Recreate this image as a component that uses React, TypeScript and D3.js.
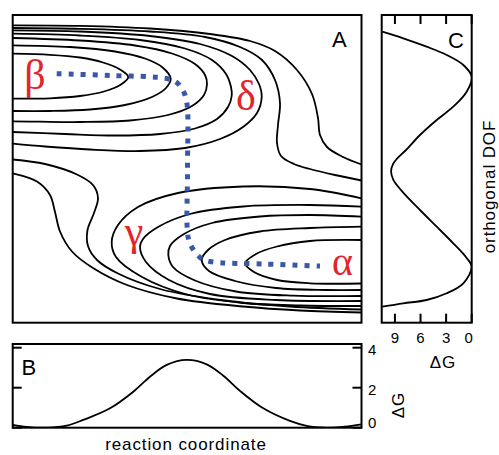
import React from 'react';
import * as d3 from 'd3';

type P = [number, number];

// ---- Panel A: traced contour lines, [reaction coordinate, orthogonal DOF] ----
const betaContour1: P[] = [[0, 26.9], [3.73, 26.79], [6.73, 26.52], [9.03, 26.02], [10.73, 25.32], [11.56, 24.57], [10.83, 23.82], [9.13, 23.12], [6.73, 22.67], [3.73, 22.44], [0, 22.4]];
const betaContour2: P[] = [[0, 27.74], [5.73, 27.57], [10.23, 27.12], [13.23, 26.42], [14.93, 25.57], [15.8, 24.4], [15.33, 23.47], [13.93, 22.57], [11.23, 21.77], [7.73, 21.32], [3.73, 21.17], [0, 21.17]];
const betaContour3: P[] = [[0, 28.47], [6.73, 28.22], [12.23, 27.72], [15.93, 26.92], [18.23, 25.87], [19.23, 24.77], [19.43, 23.87], [19.13, 22.77], [17.93, 21.67], [15.53, 20.77], [11.73, 20.22], [6.73, 20.07], [2.73, 20.1], [0, 20.14]];
const betaContour4: P[] = [[0, 28.9], [6.73, 28.72], [12.73, 28.27], [17.23, 27.42], [19.93, 26.27], [21.33, 24.87], [21.83, 23.57], [21.9, 22.67], [21.53, 21.57], [20.43, 20.37], [18.23, 19.42], [14.73, 18.87], [10.23, 18.72], [5.23, 18.87], [0, 19.07]];
const betaContour5: P[] = [[0, 29.24], [6.73, 29.12], [13.73, 28.67], [18.73, 27.87], [21.93, 26.67], [23.73, 25.27], [24.63, 23.87], [24.9, 22.57], [24.43, 20.97], [23.03, 19.57], [20.73, 18.37], [17.23, 17.47], [12.73, 17.17], [7.73, 17.32], [3.23, 17.62], [0, 17.9]];
const upperSInner: P[] = [[0, 29.47], [6.73, 29.39], [13.73, 29.12], [19.23, 28.57], [22.73, 27.57], [24.93, 26.27], [26.23, 24.27], [26.73, 21.97], [26.53, 19.77], [26.43, 17.97], [26.83, 16.67], [28.13, 15.87], [29.73, 15.37], [32.23, 14.77], [34.88, 14.22]];
const upperSOuter: P[] = [[0, 29.74], [6.73, 29.69], [13.73, 29.42], [19.73, 28.87], [23.73, 28.17], [26.23, 27.17], [28.43, 25.27], [29.93, 22.87], [30.53, 20.47], [30.73, 18.77], [31.43, 17.57], [33.03, 16.57], [34.88, 15.82]];
const alphaContour1: P[] = [[34.88, 8.27], [29.73, 8.17], [26.43, 7.62], [24.33, 6.87], [23.23, 5.94], [24.13, 5.07], [26.43, 4.27], [29.73, 3.94], [34.88, 3.92]];
const alphaContour2: P[] = [[34.88, 9.6], [29.73, 9.47], [24.73, 9.12], [21.23, 8.27], [19.53, 7.27], [18.9, 6.27], [19.63, 5.17], [22.23, 4.17], [26.33, 3.47], [31.33, 3.27], [34.88, 3.27]];
const alphaContour3: P[] = [[34.88, 10.6], [29.73, 10.77], [24.73, 10.62], [19.93, 9.97], [17.13, 8.87], [15.73, 7.67], [15.56, 6.77], [16.03, 5.57], [18.23, 4.22], [22.33, 3.12], [28.03, 2.7], [34.88, 2.67]];
const alphaContour4: P[] = [[34.88, 11.6], [29.73, 11.77], [23.03, 11.62], [17.73, 10.87], [14.53, 9.57], [13.03, 8.37], [12.73, 7.6], [13.33, 6.07], [15.63, 4.27], [19.73, 2.87], [26.33, 2.27], [34.88, 2.17]];
const alphaContour5: P[] = [[34.88, 12.44], [29.73, 13.37], [23.03, 13.62], [16.53, 12.97], [12.53, 11.57], [10.53, 9.77], [9.9, 8.1], [10.33, 6.57], [12.93, 4.57], [17.43, 2.82], [23.03, 1.97], [28.73, 1.72], [34.88, 1.67]];
const lowerSInner: P[] = [[0, 16.32], [3.23, 15.87], [6.43, 14.82], [8.03, 13.77], [8.53, 12.47], [8.13, 10.97], [7.48, 9.27], [7.53, 7.67], [8.43, 6.27], [10.53, 4.92], [14.73, 3.37], [21.23, 2.22], [27.73, 1.62], [34.88, 1.32]];
const lowerSOuter: P[] = [[0, 14.94], [2.43, 14.12], [3.73, 12.77], [4.23, 11.07], [4.73, 9.12], [5.93, 7.12], [8.03, 5.47], [11.43, 3.77], [16.43, 2.42], [23.03, 1.62], [28.73, 1.22], [34.88, 1.02]];

const contourLines: P[][] = [
  betaContour1, betaContour2, betaContour3, betaContour4, betaContour5, upperSInner, upperSOuter,
  alphaContour1, alphaContour2, alphaContour3, alphaContour4, alphaContour5, lowerSInner, lowerSOuter,
];

// reaction pathway beta -> alpha
const pathway: P[] = [[4.4, 24.9], [9.73, 24.72], [15.4, 24.42], [16.4, 24.02], [17.06, 23.17], [17.43, 21.87], [17.48, 15.27], [17.53, 8.6], [17.9, 7.57], [18.73, 6.52], [19.73, 6.12], [25.23, 5.87], [30.73, 5.67]];

const stateNames = ['β', 'δ', 'γ', 'α'];
const stateRC = [2.23, 23.33, 12.13, 32.98];
const stateOD = [23.37, 21.27, 7.77, 4.77];

// ---- Panel B: free energy along reaction coordinate ----
const profileRC = [0, 1.4, 3.4, 5.4, 7.06, 9.73, 12.06, 13.73, 15.4, 17.4, 19.4, 21.06, 22.73, 25.06, 27.73, 29.4, 31.4, 33.2, 34.88];
const profileRCdG = [0.14, 0.04, 0, 0.1, 0.39, 0.97, 1.8, 2.55, 3.14, 3.39, 3.17, 2.6, 1.84, 0.97, 0.34, 0.09, 0, 0.05, 0.17];
const bTicks = [0, 2, 4];

// ---- Panel C: free energy along orthogonal DOF ----
const profileOD = [29.1, 28.44, 27.6, 26.77, 25.77, 24.6, 23.1, 21.6, 20.27, 18.77, 17.27, 16.4, 15.9, 15.12, 14.3, 13.8, 12.94, 11.27, 9.6, 7.94, 6.47, 5.6, 3.94, 2.94, 2.27, 1.94, 1.6];
const profileODdG = [10.48, 8.02, 5.28, 2.93, 0.98, 0, 0.59, 2.16, 4.1, 6.06, 7.7, 8.75, 9.2, 9.45, 9.2, 8.8, 7.95, 6.06, 4.1, 2.16, 0.59, 0, 0.98, 2.93, 5.28, 8.02, 10.48];
const cTicks = [9, 6, 3, 0];

const SANS = 'Liberation Sans, Arial, Helvetica, sans-serif';
const SERIF = 'Liberation Serif, Times New Roman, serif';
const RED = '#e3242b';
const BLUE = '#3b57a7';

export default function App() {
  const x = d3.scaleLinear().domain([0, 34.88]).range([12.7, 361.5]);
  const y = d3.scaleLinear().domain([0, 30.77]).range([322.7, 15]);
  const gB = d3.scaleLinear().domain([0, 4]).range([427.7, 347.7]);
  const gC = d3.scaleLinear().domain([0, 10.55]).range([471.7, 381.7]);

  const aLine = d3.line<P>().x(d => x(d[0])).y(d => y(d[1])).curve(d3.curveCatmullRom.alpha(0.5));
  const bLine = d3.line<number>().x((d, i) => x(profileRC[i])).y(d => gB(d)).curve(d3.curveCatmullRom.alpha(0.5));
  const cLine = d3.line<number>().x(d => gC(d)).y((d, i) => y(profileOD[i])).curve(d3.curveCatmullRom.alpha(0.5));

  const [ax0, ax1] = x.range();
  const ayTop = y(30.77), ayBot = y(0);
  const cx0 = gC(10.55), cx1 = gC(0);
  const bTop = 344, bBot = gB(0);
  const tick = 9;

  return (
    <svg width={499} height={455} style={{ position: 'absolute', left: 0, top: 0, background: '#fff' }}>
      <defs>
        <clipPath id="clipA"><rect x={ax0} y={ayTop} width={ax1 - ax0} height={ayBot - ayTop} /></clipPath>
        <clipPath id="clipB"><rect x={ax0} y={bTop} width={ax1 - ax0} height={bBot - bTop} /></clipPath>
        <clipPath id="clipC"><rect x={cx0} y={ayTop} width={cx1 - cx0} height={ayBot - ayTop} /></clipPath>
      </defs>

      {/* Panel A */}
      <g clipPath="url(#clipA)">
        {contourLines.map((c, i) => (
          <path key={i} d={aLine(c) || ''} fill="none" stroke="#000" strokeWidth={1.8} />
        ))}
        <path d={aLine(pathway) || ''} fill="none" stroke={BLUE} strokeWidth={5} strokeDasharray="5,7" />
      </g>
      {stateNames.map((s, i) => (
        <text key={s} x={x(stateRC[i])} y={y(stateOD[i])} fill={RED} fontFamily={SERIF}
          fontSize={s === 'α' ? 40 : 42} textAnchor="middle">{s}</text>
      ))}
      <rect x={ax0} y={ayTop} width={ax1 - ax0} height={ayBot - ayTop} fill="none" stroke="#000" strokeWidth={2} />
      <text x={332} y={47} fontFamily={SANS} fontSize={22}>A</text>

      {/* Panel C */}
      <g clipPath="url(#clipC)">
        <path d={cLine(profileODdG) || ''} fill="none" stroke="#000" strokeWidth={1.8} />
      </g>
      {cTicks.map(v => (
        <g key={v}>
          <line x1={gC(v)} x2={gC(v)} y1={ayTop} y2={ayTop + tick} stroke="#000" strokeWidth={2} />
          <line x1={gC(v)} x2={gC(v)} y1={ayBot} y2={ayBot - tick} stroke="#000" strokeWidth={2} />
          <text x={v === 0 ? gC(v) - 3 : gC(v)} y={343} fontFamily={SANS} fontSize={15} textAnchor="middle">{v}</text>
        </g>
      ))}
      <rect x={cx0} y={ayTop} width={cx1 - cx0} height={ayBot - ayTop} fill="none" stroke="#000" strokeWidth={2} />
      <text x={448} y={48} fontFamily={SANS} fontSize={22}>C</text>
      <text x={443} y={368} fontFamily={SANS} fontSize={17} textAnchor="middle" letterSpacing={0.9}>ΔG</text>
      <text transform={`translate(494.5,186.5) rotate(-90)`} fontFamily={SANS} fontSize={17} textAnchor="middle" letterSpacing={0.9}>orthogonal DOF</text>

      {/* Panel B */}
      <g clipPath="url(#clipB)">
        <path d={bLine(profileRCdG) || ''} fill="none" stroke="#000" strokeWidth={1.8} />
      </g>
      {bTicks.map(v => (
        <g key={v}>
          <line x1={ax0} x2={ax0 + tick} y1={gB(v)} y2={gB(v)} stroke="#000" strokeWidth={2} />
          <line x1={ax1} x2={ax1 - tick} y1={gB(v)} y2={gB(v)} stroke="#000" strokeWidth={2} />
          <text x={368} y={Math.min(gB(v) + 7.5, gB(0) + 0.5)} fontFamily={SANS} fontSize={15}>{v}</text>
        </g>
      ))}
      <rect x={ax0} y={bTop} width={ax1 - ax0} height={bBot - bTop} fill="none" stroke="#000" strokeWidth={2} />
      <text x={21.5} y={375} fontFamily={SANS} fontSize={22}>B</text>
      <text transform={`translate(403.5,405) rotate(-90)`} fontFamily={SANS} fontSize={17} textAnchor="middle" letterSpacing={0.9}>ΔG</text>
      <text x={186} y={450} fontFamily={SANS} fontSize={17} textAnchor="middle" letterSpacing={0.9}>reaction coordinate</text>
    </svg>
  );
}
